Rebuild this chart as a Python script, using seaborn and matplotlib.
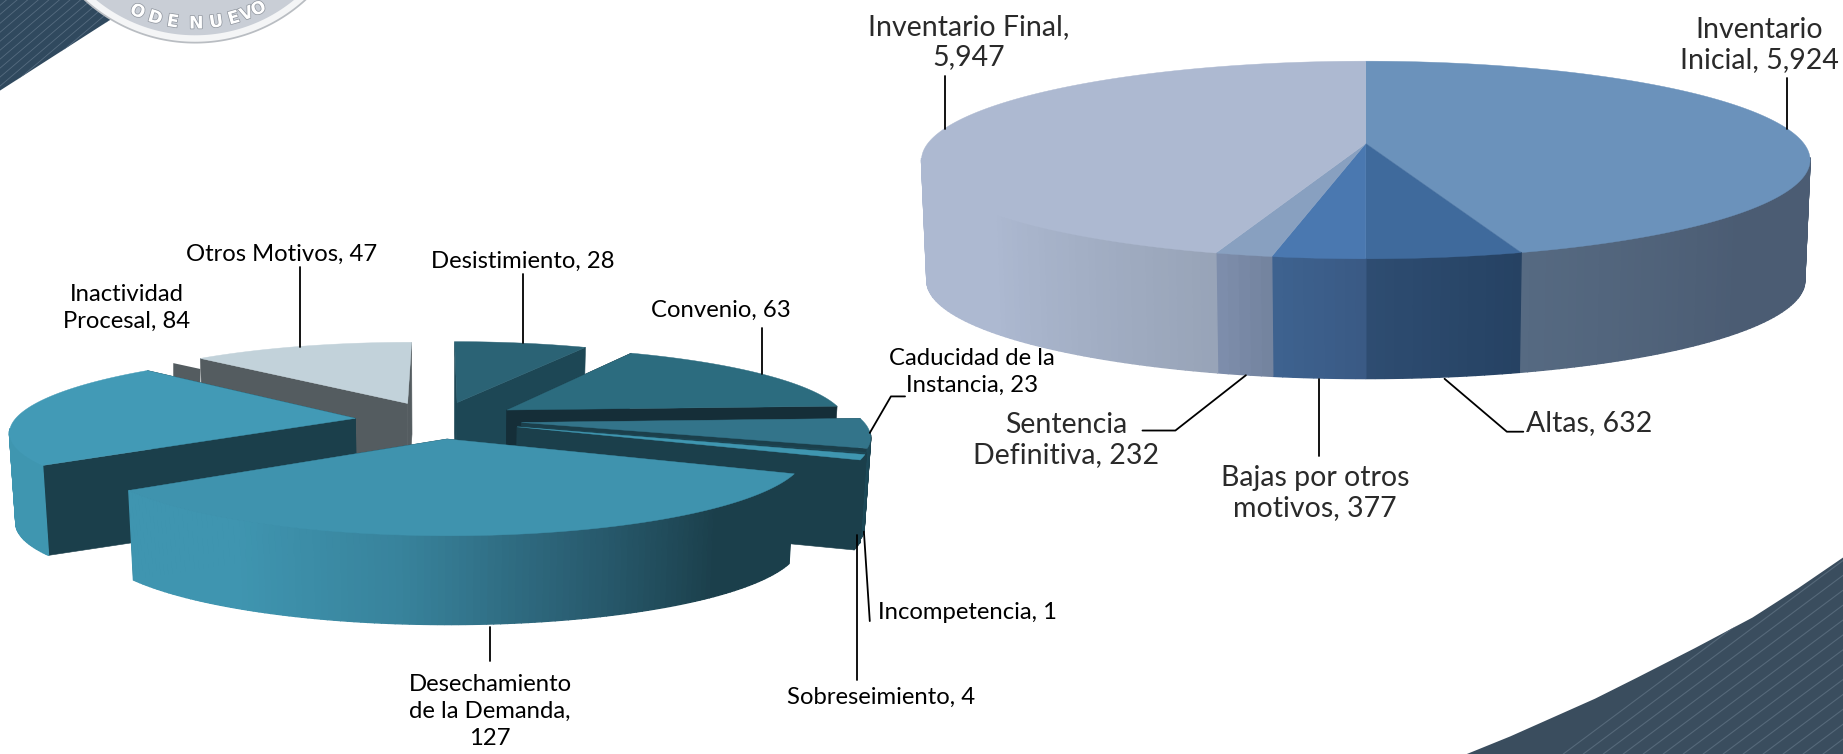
import numpy as np
import matplotlib
matplotlib.use('Agg')
import matplotlib.pyplot as plt
import matplotlib.patheffects as pe
from matplotlib.patches import Polygon
import seaborn as sns

# data for right pie
inv_labels = ['Inventario\nInicial, 5,924', 'Altas, 632', 'Bajas por otros\nmotivos, 377', 'Sentencia\nDefinitiva, 232', 'Inventario Final,\n5,947']
inv_values = [5924, 632, 377, 232, 5947]
inv_top = ['#6b92bb', '#3f6a9c', '#4a78b0', '#88a0c0', '#adb9d1']
inv_wall = [['#4b5c73', '#4b5c73', '#566a82'], ['#264263', '#2e4d72'], ['#3a5a85', '#3e6390'], ['#74849f', '#7f8fae'], ['#98a4b8', '#adb9d1', '#adb9d1']]

# data for left pie
baja_labels = ['Desistimiento, 28', 'Convenio, 63', 'Caducidad de la\nInstancia, 23', 'Incompetencia, 1', 'Sobreseimiento, 4', 'Desechamiento\nde la Demanda,\n127', 'Inactividad\nProcesal, 84', 'Otros Motivos, 47']
baja_values = [28, 63, 23, 1, 4, 127, 84, 47]
baja_top = ['#2b6375', '#2c6c7f', '#33748a', '#1d4755', '#3f96b0', '#3f93ae', '#429ab6', '#c2d2da']
baja_face = ['#1d4755', '#152e38', '#1b3f4b', '#1b3f4b', '#1b3f4b', '#1b3f4b', '#1b3f4b', '#545c60']
baja_wall = [['#1d4755', '#1d4755'], ['#1d4755', '#152e38'], ['#1b3f4b', '#1d4a59'], ['#1b3f4b', '#1b3f4b'], ['#1b3f4b', '#1b3f4b'],
             ['#1b3f4b', '#1b3f4b', '#2a5f73', '#38839c', '#3f95b0', '#3f95b0'], ['#3f96b0', '#3f96b0'], ['#c2d2da', '#c2d2da']]
# draw order, back to front
baja_order = [0, 7, 1, 6, 2, 3, 4, 5]

sns.set_theme(style='white')
fig, ax = plt.subplots(figsize=(18.43, 7.54), dpi=100)
fig.subplots_adjust(0, 0, 1, 1)
ax.set_xlim(0, 1568)
ax.set_ylim(641, 0)
ax.axis('off')


def project(theta, r, shift, pie):
    # clockwise from the top, plane coordinates then a perspective divide
    u = r * np.sin(theta) + shift[0]
    v = r * np.cos(theta) + shift[1]
    d = 1 + pie['p'] * v
    return pie['a'] * u / d, -pie['b'] * v / d


def draw_slice(start, end, shift, pie, top, face, wall, zorder):
    cx, cy, s, depth = pie['cx'], pie['cy'], pie['s'], pie['depth']
    th = np.linspace(start, end, max(int((end - start) * 60), 3))
    x, y = project(th, 1, shift, pie)
    x0, y0 = project(0, 0, shift, pie)
    # cut faces
    if face is not None:
        for i in [0, -1]:
            ax.fill([cx + x0, cx + x[i], cx + s * x[i], cx + s * x0],
                    [cy + y0, cy + y[i], cy + s * y[i] + depth, cy + s * y0 + depth],
                    color=face, lw=0.4, zorder=zorder)
    # outer wall, small quads blended along the arc, front side only
    front = np.where(np.cos(th) < -pie['p'] * 0.8)[0]
    if len(front) > 1:
        cols = sns.blend_palette(wall, len(front))
        for n, i in enumerate(front[:-1]):
            ax.fill([cx + x[i], cx + x[i + 1], cx + s * x[i + 1], cx + s * x[i]],
                    [cy + y[i], cy + y[i + 1], cy + s * y[i + 1] + depth, cy + s * y[i] + depth],
                    color=cols[n], lw=1.0, zorder=zorder)
    ax.fill(np.r_[cx + x0, cx + x], np.r_[cy + y0, cy + y], color=top, lw=0.3, zorder=zorder + 0.5)


# background decoration, dark corner top left
corner = Polygon([(0, 0), (120, 0), (0, 77)], closed=True, color='#30495e', lw=0, zorder=0)
ax.add_patch(corner)
for off in range(-40, 170, 9):
    ln, = ax.plot([off - 100, off + 30], [85, -25], color='#566c80', lw=0.6, zorder=0.1)
    ln.set_clip_path(corner)

# seal
th = np.linspace(0, 2 * np.pi, 300)
ax.fill(166 + 140 * np.cos(th), -103 + 140 * np.sin(th), color='#b9bdc2', lw=0, zorder=0.3)
ax.fill(166 + 138.5 * np.cos(th), -103 + 138.5 * np.sin(th), color='#f4f5f6', lw=0, zorder=0.4)
ax.fill(166 + 133 * np.cos(th), -103 + 133 * np.sin(th), color='#c9ced6', lw=0, zorder=0.5)
seal_letters = ['O', 'D', 'E', 'N', 'U', 'E', 'V', 'O']
seal_x = [117, 132, 147, 167, 184, 199, 210, 220]
for ch, x_ in zip(seal_letters, seal_x):
    ang = np.arcsin((x_ - 166) / 123)
    ax.text(x_, -103 + 123 * np.cos(ang), ch, fontsize=12.5, family='DejaVu Sans', fontweight='bold', color='white',
            rotation=np.degrees(ang), ha='center', va='center', zorder=0.6,
            path_effects=[pe.withStroke(linewidth=1.0, foreground='#8d939c')])

# dark swoosh bottom right
swoosh_x = [1568, 1248, 1285, 1321, 1357, 1393, 1442, 1491, 1530, 1568]
swoosh_y = [641, 641, 626, 610, 594, 576, 551, 525, 500, 474]
swoosh = Polygon(list(zip(swoosh_x, swoosh_y)), closed=True, color='#3a4d5e', lw=0, zorder=0)
ax.add_patch(swoosh)
for off in range(0, 240, 17):
    ln, = ax.plot([1330 + off, 1600 + off], [641, 440], color='#56697a', lw=0.8, zorder=0.1)
    ln.set_clip_path(swoosh)

# left pie
baja_pie = {'cx': 373, 'cy': 357, 'a': 290, 'b': 64, 'p': 0.154, 's': 0.985, 'depth': 77}
edges = np.r_[0, np.cumsum(baja_values)] / sum(baja_values) * 2 * np.pi
explode = 0.245
for n, i in enumerate(baja_order):
    mid = (edges[i] + edges[i + 1]) / 2
    shift = (explode * np.sin(mid), explode * np.cos(mid))
    if baja_labels[i].startswith('Otros'):
        # small grey tab left of the light slice
        ox, oy = project(edges[i], 1, shift, baja_pie)
        ox, oy = ox + baja_pie['cx'], oy + baja_pie['cy']
        ax.fill([ox, ox - 23, ox - 23, ox], [oy + 9, oy + 4, oy + 60, oy + 60], color=baja_face[i], lw=0, zorder=2 + n)
    draw_slice(edges[i], edges[i + 1], shift, baja_pie, baja_top[i], baja_face[i], baja_wall[i], 2 + n)

# right pie
inv_pie = {'cx': 1162, 'cy': 122, 'a': 372.7, 'b': 81.67, 'p': 0.1667, 's': 0.988, 'depth': 103}
edges = np.r_[0, np.cumsum(inv_values)] / sum(inv_values) * 2 * np.pi
for i in [0, 4, 1, 3, 2]:
    draw_slice(edges[i], edges[i + 1], (0, 0), inv_pie, inv_top[i], None, inv_wall[i], 20 + i)

# leader lines
leaders = [([445, 445], [233, 292]), ([648, 648], [279, 318]), ([740, 758, 770], [368, 337, 337]),
           ([740, 735], [528, 452]), ([729, 729], [578, 455]), ([417, 417], [533, 562]),
           ([255, 255], [227, 295]), ([804, 804], [65, 110]), ([1520, 1520], [66, 110]),
           ([1229, 1282, 1296], [322, 367, 367]), ([1122, 1122], [322, 388]), ([1060, 1000, 972], [319, 366, 366])]
for lx, ly in leaders:
    ax.plot(lx, ly, color='black', lw=1.3, zorder=40)

# labels
left_pos = [(445, 222), (613, 264), (827, 316), (823, 521), (750, 593), (417, 605), (108, 262), (240, 216)]
for t, (x_, y_) in zip(baja_labels, left_pos):
    ax.text(x_, y_, t, family='Lato', fontsize=17.2, color='black', ha='center', va='center', linespacing=1.35, zorder=41)
right_pos = [(1497, 38), (1352, 360), (1119, 419), (907, 374), (824, 36)]
for t, (x_, y_) in zip(inv_labels, right_pos):
    ax.text(x_, y_, t, family='Lato', fontsize=20.5, color='#2a2a2a', ha='center', va='center', linespacing=1.2, zorder=41)

fig.savefig('out.png', dpi=100)
